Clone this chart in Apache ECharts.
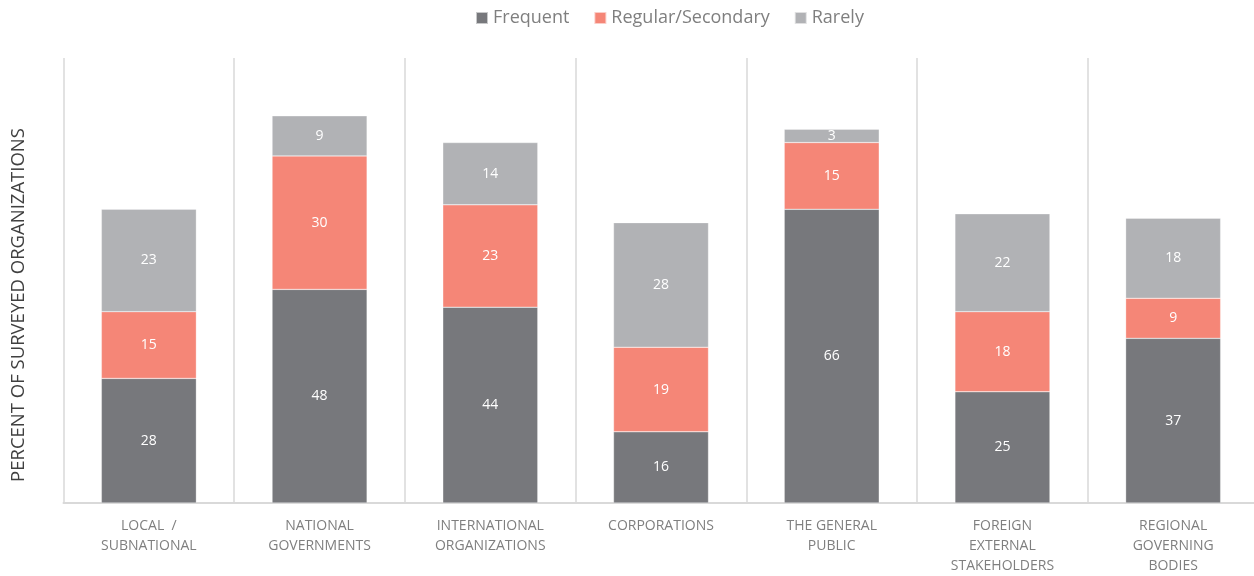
<!DOCTYPE html>
<html>
<head>
<meta charset="utf-8">
<script src="https://cdn.jsdelivr.net/npm/echarts@6/dist/echarts.min.js"></script>
<style>html,body{margin:0;padding:0;background:#fff;overflow:hidden}#c{width:1262px;height:576px}</style>
</head>
<body>
<div id="c"></div>
<script>
const categories = ["LOCAL  /\nSUBNATIONAL","NATIONAL\nGOVERNMENTS","INTERNATIONAL\nORGANIZATIONS","CORPORATIONS","THE GENERAL\nPUBLIC","FOREIGN\nEXTERNAL\nSTAKEHOLDERS","REGIONAL\nGOVERNING\nBODIES"];
const frequent = [28, 48, 44, 16, 66, 25, 37];
const regular = [15, 30, 23, 19, 15, 18, 9];
const rarely = [23, 9, 14, 28, 3, 22, 18];
const seriesNames = ["Frequent", "Regular/Secondary", "Rarely"];
const yTitle = "PERCENT OF SURVEYED ORGANIZATIONS";

const FONT = '"Open Sans", "Noto Sans", sans-serif';
const colors = ["#77787c", "#f58677", "#b1b2b5"];
const chart = echarts.init(document.getElementById('c'));
const mk = (name, data, i) => ({
  name, type: 'bar', stack: 'all', data, barWidth: 95,
  itemStyle: { color: colors[i], borderColor: 'rgba(255,255,255,0.6)', borderWidth: 0.5 },
  label: { show: true, position: 'inside', color: '#ffffff', fontSize: 14, fontFamily: FONT },
  emphasis: { disabled: true }
});
chart.setOption({
  animation: false,
  textStyle: { fontFamily: FONT },
  color: colors,
  legend: {
    top: 4, left: 470, itemWidth: 12, itemHeight: 12, itemGap: 24,
    icon: 'rect',
    textStyle: { fontSize: 18, color: '#7f7f7f', fontFamily: FONT },
    data: seriesNames
  },
  grid: { left: 63.5, top: 58, width: 1195, height: 445, containLabel: false },
  xAxis: {
    type: 'category', data: categories,
    axisLine: { show: true, lineStyle: { color: '#d9d9d9', width: 2 } },
    axisTick: { show: false },
    splitLine: { show: true, interval: 0, lineStyle: { color: '#d9d9d9', width: 1.5 } },
    axisLabel: { interval: 0, color: '#7f7f7f', fontSize: 14, lineHeight: 20, margin: 13, fontFamily: FONT }
  },
  yAxis: {
    type: 'value', min: 0, max: 100,
    axisLine: { show: false }, axisTick: { show: false },
    axisLabel: { show: false }, splitLine: { show: false }
  },
  graphic: [{
    type: 'text', x: 9, y: 305, rotation: Math.PI / 2,
    style: { text: yTitle, fill: '#404040', fontSize: 18.5, fontFamily: FONT, align: 'center', verticalAlign: 'top' }
  }],
  series: [mk(seriesNames[0], frequent, 0), mk(seriesNames[1], regular, 1), mk(seriesNames[2], rarely, 2)]
});
</script>
</body>
</html>
